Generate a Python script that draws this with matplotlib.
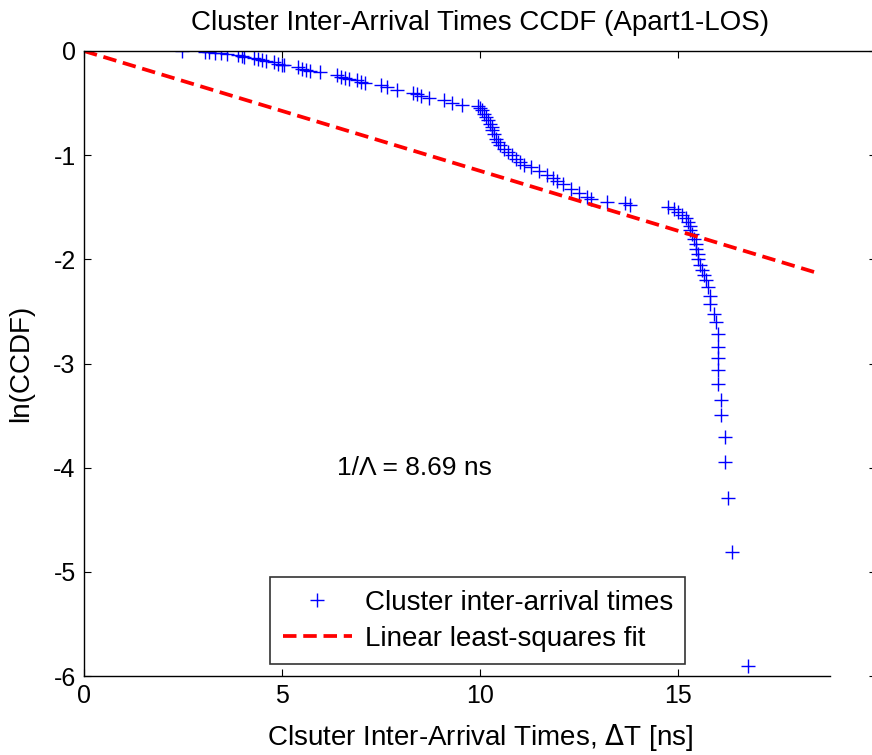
import numpy as np
import matplotlib.pyplot as plt

plt.rcParams['font.family'] = ['Liberation Sans', 'DejaVu Sans']
plt.rcParams['axes.unicode_minus'] = False

# measured inter-arrival times (ns) and log of the empirical CCDF
t_ns = [2.47,
        3.05, 3.15, 3.3, 3.45, 3.6,
        3.9, 4.0, 4.05,
        4.3, 4.4, 4.5, 4.6,
        4.8, 4.9, 5.0, 5.05,
        5.4, 5.5, 5.6, 5.7, 5.96,
        6.4, 6.5, 6.6, 6.7,
        6.9, 7.0, 7.1,
        7.5, 7.65, 7.9,
        8.3, 8.4, 8.5, 8.7,
        9.1, 9.3, 9.55,
        9.95, 10.0, 10.05, 10.1, 10.15, 10.2, 10.25, 10.3, 10.3, 10.35,
        10.4, 10.45, 10.5, 10.6, 10.7, 10.8, 10.9, 11.0, 11.1, 11.3,
        11.5, 11.7, 11.85, 11.95, 12.1, 12.3, 12.5, 12.7, 12.8,
        13.2, 13.65, 13.8,
        14.75, 14.9, 15.0, 15.1, 15.2, 15.25, 15.3, 15.3, 15.35, 15.4,
        15.45, 15.45, 15.5, 15.5, 15.55, 15.6, 15.65, 15.7, 15.75, 15.8,
        15.8, 15.9, 15.95, 16.0, 16.0, 16.0, 16.0, 16.0,
        16.08, 16.08, 16.19, 16.19, 16.27, 16.37, 16.77]
ln_ccdf = [0.0,
           -0.005, -0.01, -0.015, -0.02, -0.025,
           -0.04, -0.05, -0.055,
           -0.07, -0.08, -0.09, -0.1,
           -0.11, -0.12, -0.13, -0.135,
           -0.15, -0.17, -0.18, -0.19, -0.2,
           -0.23, -0.245, -0.255, -0.265,
           -0.28, -0.3, -0.31,
           -0.33, -0.35, -0.37,
           -0.4, -0.41, -0.43, -0.45,
           -0.47, -0.5, -0.52,
           -0.53, -0.55, -0.57, -0.6, -0.63, -0.66, -0.7, -0.73, -0.76, -0.8,
           -0.84, -0.87, -0.9, -0.94, -0.97, -1.0, -1.04, -1.07, -1.09, -1.11,
           -1.15, -1.19, -1.22, -1.25, -1.28, -1.32, -1.36, -1.4, -1.42,
           -1.45, -1.46, -1.48,
           -1.5, -1.52, -1.55, -1.57, -1.6, -1.64, -1.68, -1.72, -1.76, -1.8,
           -1.85, -1.9, -1.95, -2.0, -2.05, -2.1, -2.15, -2.2, -2.27, -2.35,
           -2.43, -2.52, -2.6, -2.72, -2.84, -2.95, -3.06, -3.2,
           -3.35, -3.49, -3.71, -3.95, -4.29, -4.81, -5.9]

# least-squares fit: ln(CCDF) = -t / (1/Lambda)
inv_lambda = 8.69
fit_t_end = 18.46

fig = plt.figure(figsize=(8.72, 7.55), dpi=100)
ax = fig.add_axes([84 / 872, 79 / 755, 792 / 872, 625 / 755])

fit_t = np.array([0.0, fit_t_end])
ax.plot(t_ns, ln_ccdf, linestyle='none', marker='+', color='#0000ff',
        markersize=10, markeredgewidth=1.0, label='Cluster inter-arrival times')
ax.plot(fit_t, -fit_t / inv_lambda, color='#ff0000', linewidth=2.7,
        dashes=(3.6, 1.8), label='Linear least-squares fit')

ax.set_xlim(0, 20)
ax.set_ylim(-6, 0)
ax.set_xticks([0, 5, 10, 15])
ax.set_yticks(range(-6, 1))
ax.tick_params(direction='in', top=True, right=True, length=5, width=0.8,
               labelsize=18, pad=6)
for sp in ax.spines.values():
    sp.set_linewidth(1.0)
ax.spines['bottom'].set_bounds(0, 18.85)

ax.set_title('Cluster Inter-Arrival Times CCDF (Apart1-LOS)', fontsize=20, pad=15)
ax.set_xlabel('Clsuter Inter-Arrival Times, $\\Delta$T [ns]', fontsize=20, labelpad=10)
ax.set_ylabel('ln(CCDF)', fontsize=20, labelpad=14)
ax.text(6.4, -4.0, '1/\u039b = 8.69 ns', fontsize=19, va='center')

leg = ax.legend(loc='lower left', bbox_to_anchor=(0.235, 0.019), fontsize=20,
                frameon=True, fancybox=False, edgecolor='black',
                handlelength=2.5, handletextpad=0.45, borderpad=0.45,
                labelspacing=0.35, borderaxespad=0)
leg.get_frame().set_linewidth(1.2)

fig.savefig('out.png', dpi=100)
